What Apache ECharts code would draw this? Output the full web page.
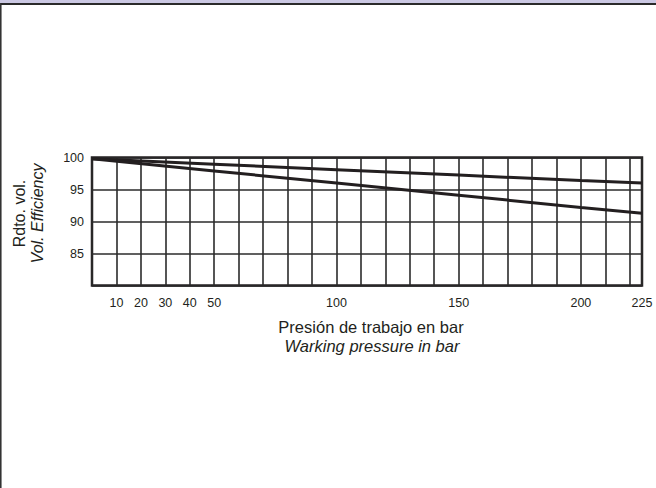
<!DOCTYPE html>
<html>
<head>
<meta charset="utf-8">
<script src="https://cdn.jsdelivr.net/npm/echarts@6/dist/echarts.min.js"></script>
<style>
html,body{margin:0;padding:0;background:#fff;}
#chart{width:656px;height:488px;}
</style>
</head>
<body>
<div id="chart"></div>
<script>
// Pressure (bar) sample points
const pressure = [0, 50, 100, 150, 200, 225];
// Upper curve (volumetric efficiency, %)
const effHigh = [99.8, 98.95, 98.1, 97.25, 96.4, 96.0];
// Lower curve (volumetric efficiency, %)
const effLow = [99.8, 97.9, 96.0, 94.1, 92.2, 91.3];
// Tick labels shown on the x axis
const xTickLabels = [10, 20, 30, 40, 50, 100, 150, 200, 225];
// Tick labels shown on the y axis
const yTickLabels = [85, 90, 95, 100];

const ink = '#231f20';
const font = '"Liberation Sans", Arial, sans-serif';

const chart = echarts.init(document.getElementById('chart'), null, {renderer: 'svg'});
chart.setOption({
  animation: false,
  backgroundColor: '#ffffff',
  grid: {
    left: 92, top: 157.5, right: 14, bottom: 202.5,
    show: true, borderColor: ink, borderWidth: 2.5, backgroundColor: 'transparent'
  },
  xAxis: {
    type: 'value', min: 0, max: 225, interval: 10,
    axisLine: {show: false},
    axisTick: {show: false},
    splitLine: {show: true, lineStyle: {color: '#2b2b2b', width: 1.6}},
    axisLabel: {
      showMinLabel: false, showMaxLabel: true,
      margin: 11, color: ink, fontFamily: font, fontSize: 12.5,
      formatter: v => xTickLabels.indexOf(v) >= 0 ? String(v) : ''
    }
  },
  yAxis: {
    type: 'value', min: 80, max: 100, interval: 5,
    axisLine: {show: false},
    axisTick: {show: false},
    splitLine: {show: true, lineStyle: {color: '#2b2b2b', width: 1.6}},
    axisLabel: {
      margin: 8, color: ink, fontFamily: font, fontSize: 12.5,
      formatter: v => yTickLabels.indexOf(v) >= 0 ? String(v) : ''
    }
  },
  series: [
    {type: 'line', data: pressure.map((p, i) => [p, effHigh[i]]), showSymbol: false,
     lineStyle: {color: ink, width: 3}, z: 5},
    {type: 'line', data: pressure.map((p, i) => [p, effLow[i]]), showSymbol: false,
     lineStyle: {color: ink, width: 3}, z: 5}
  ],
  graphic: [
    {type: 'rect', shape: {x: 0, y: 0, width: 656, height: 3}, style: {fill: '#cbc8e3'}, silent: true},
    {type: 'rect', shape: {x: 0, y: 3, width: 656, height: 2}, style: {fill: '#2a2a2a'}, silent: true},
    {type: 'rect', shape: {x: 0, y: 3, width: 1, height: 485}, style: {fill: '#333333'}, silent: true},
    {type: 'rect', shape: {x: 1, y: 5, width: 1, height: 483}, style: {fill: '#8a8a8a'}, silent: true},
    {type: 'text', x: 19, y: 213.5, rotation: Math.PI / 2,
     style: {text: 'Rdto. vol.', fill: ink, font: '16px ' + font, textAlign: 'center', textVerticalAlign: 'middle'}},
    {type: 'text', x: 37.5, y: 213.5, rotation: Math.PI / 2,
     style: {text: 'Vol. Efficiency', fill: ink, font: 'italic 16px ' + font, textAlign: 'center', textVerticalAlign: 'middle'}},
    {type: 'text', x: 371, y: 327,
     style: {text: 'Presión de trabajo en bar', fill: ink, font: '16.5px ' + font, textAlign: 'center', textVerticalAlign: 'middle'}},
    {type: 'text', x: 372, y: 346,
     style: {text: 'Warking pressure in bar', fill: ink, font: 'italic 16.5px ' + font, textAlign: 'center', textVerticalAlign: 'middle'}}
  ]
});
</script>
</body>
</html>
